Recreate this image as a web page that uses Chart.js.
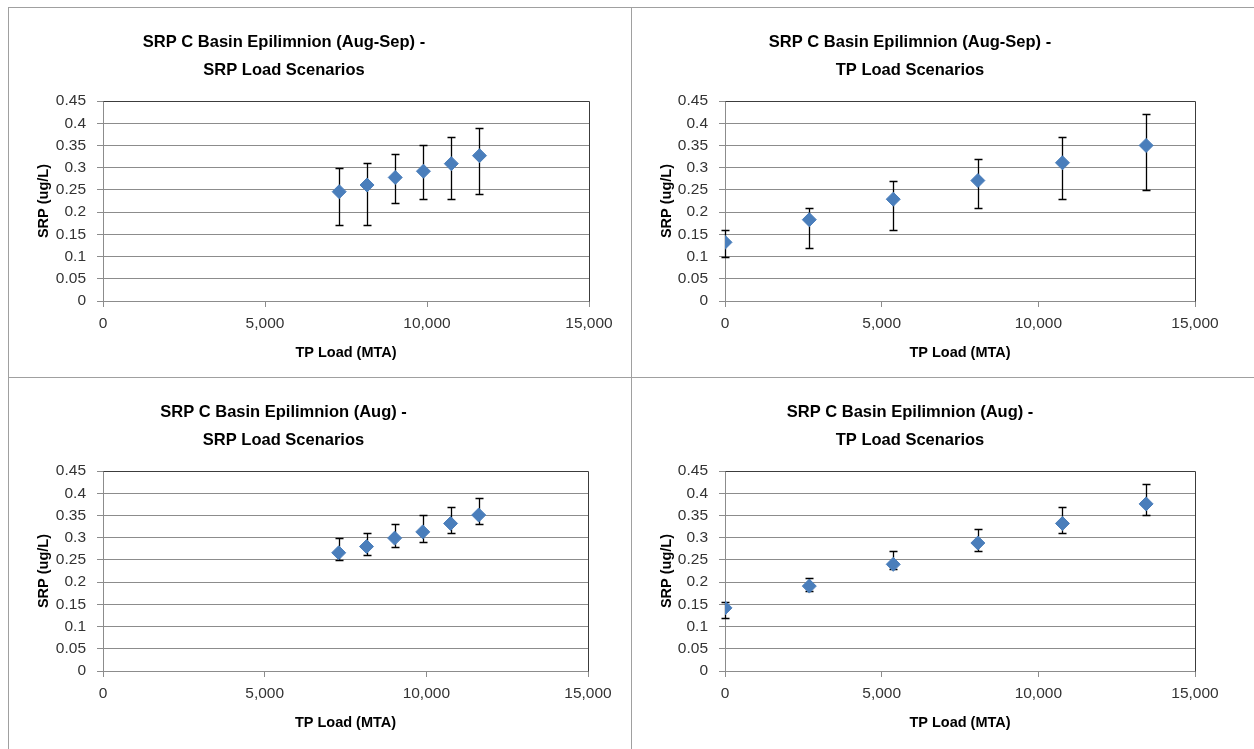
<!DOCTYPE html>
<html>
<head>
<meta charset="utf-8">
<script src="https://cdn.jsdelivr.net/npm/chart.js@4.4.0/dist/chart.umd.min.js"></script>
<style>
  html, body { margin: 0; padding: 0; background: #fff; }
  #page { position: relative; width: 1254px; height: 749px; overflow: hidden; background: #fff; }
  .panel { position: absolute; overflow: hidden; }
  .panel canvas { position: absolute; top: 0; }
  .rule { position: absolute; background: #a0a0a0; z-index: 2; }
</style>
</head>
<body>
<div id="page">
  <div class="panel" style="left:8px;top:7px;width:623px;height:370px"><canvas id="c1" width="652" height="370" style="left:-29px"></canvas></div>
  <div class="panel" style="left:631px;top:7px;width:623px;height:370px"><canvas id="c2" width="629" height="370" style="left:-6px"></canvas></div>
  <div class="panel" style="left:8px;top:377px;width:623px;height:372px"><canvas id="c3" width="652" height="370" style="left:-29px"></canvas></div>
  <div class="panel" style="left:631px;top:377px;width:623px;height:372px"><canvas id="c4" width="629" height="370" style="left:-6px"></canvas></div>
  <div class="rule" style="left:8px;top:7px;width:1246px;height:1px"></div>
  <div class="rule" style="left:8px;top:377px;width:1246px;height:1px"></div>
  <div class="rule" style="left:8px;top:7px;width:1px;height:742px"></div>
  <div class="rule" style="left:631px;top:7px;width:1px;height:742px"></div>
</div>
<script>
Chart.defaults.font.family = "'Liberation Sans', Arial, sans-serif";
Chart.defaults.color = '#333';

const xTickLabels = ['0', '5,000', '10,000', '15,000'];
const yTickLabels = ['0', '0.05', '0.1', '0.15', '0.2', '0.25', '0.3', '0.35', '0.4', '0.45'];

// TP load of each scenario
const srpScenarioLoad = [7290, 8150, 9020, 9890, 10750, 11620];
const tpScenarioLoad = [0, 2690, 5370, 8070, 10770, 13440];

// Aug-Sep, SRP load scenarios
const augSepSrpMean = [0.246, 0.261, 0.278, 0.292, 0.309, 0.327];
const augSepSrpHigh = [0.30, 0.31, 0.33, 0.35, 0.37, 0.39];
const augSepSrpLow = [0.17, 0.17, 0.22, 0.23, 0.23, 0.24];

// Aug-Sep, TP load scenarios
const augSepTpMean = [0.132, 0.183, 0.229, 0.271, 0.311, 0.350];
const augSepTpHigh = [0.16, 0.21, 0.27, 0.32, 0.37, 0.42];
const augSepTpLow = [0.10, 0.12, 0.16, 0.21, 0.23, 0.25];

// Aug, SRP load scenarios
const augSrpMean = [0.266, 0.280, 0.299, 0.313, 0.332, 0.351];
const augSrpHigh = [0.30, 0.31, 0.33, 0.35, 0.37, 0.39];
const augSrpLow = [0.25, 0.26, 0.28, 0.29, 0.31, 0.33];

// Aug, TP load scenarios
const augTpMean = [0.142, 0.191, 0.240, 0.288, 0.332, 0.376];
const augTpHigh = [0.155, 0.21, 0.27, 0.32, 0.37, 0.42];
const augTpLow = [0.12, 0.18, 0.23, 0.27, 0.31, 0.35];

// whiskers drawn from the dataset's errHigh / errLow through the scales
const errorBars = {
    id: 'errorBars',
    beforeDatasetsDraw(chart) {
        const {ctx, scales: {x, y}} = chart;
        const ds = chart.data.datasets[0];
        ctx.save();
        ctx.strokeStyle = '#000';
        ctx.lineWidth = 1.3;
        ds.data.forEach((p, i) => {
            const px = Math.round(x.getPixelForValue(p.x)) + 0.5;
            const top = Math.round(y.getPixelForValue(ds.errHigh[i])) + 0.5;
            const bot = Math.round(y.getPixelForValue(ds.errLow[i])) + 0.5;
            ctx.beginPath();
            ctx.moveTo(px, top); ctx.lineTo(px, bot);
            ctx.moveTo(px - 4, top); ctx.lineTo(px + 4, top);
            ctx.moveTo(px - 4, bot); ctx.lineTo(px + 4, bot);
            ctx.stroke();
        });
        ctx.restore();
    }
};

// dark top and right edge of the plot area
const plotFrame = {
    id: 'plotFrame',
    beforeDatasetsDraw(chart) {
        const {ctx, chartArea: a} = chart;
        const l = Math.round(a.left) + 0.5, r = Math.round(a.right) + 0.5;
        const t = Math.round(a.top) + 0.5, b = Math.round(a.bottom) + 0.5;
        ctx.save();
        ctx.strokeStyle = '#3c3c3c';
        ctx.lineWidth = 1;
        ctx.beginPath();
        ctx.moveTo(l, t); ctx.lineTo(r, t); ctx.lineTo(r, b);
        ctx.stroke();
        ctx.restore();
    }
};

function makeChart(id, plotLeft, padRight, titleX, title, xs, mean, high, low) {
    return new Chart(document.getElementById(id), {
        type: 'scatter',
        plugins: [errorBars, plotFrame],
        data: {
            datasets: [{
                data: xs.map((v, i) => ({x: v, y: mean[i]})),
                errHigh: high,
                errLow: low,
                pointStyle: 'rectRot',
                pointRadius: 7,
                backgroundColor: '#4A7EBB',
                borderColor: '#4A7EBB',
                borderWidth: 1,
            }]
        },
        options: {
            responsive: false,
            animation: false,
            events: [],
            layout: {
                padding: {top: 0, left: 0, right: padRight, bottom: 0},
            },
            plugins: {
                legend: {display: false},
                tooltip: {enabled: false},
                title: {
                    display: true,
                    text: title,
                    color: '#000',
                    font: {size: 16.5, weight: 'bold', lineHeight: '28px'},
                    padding: {top: 21, bottom: 17},
                },
            },
            scales: {
                x: {
                    type: 'linear',
                    min: 0,
                    max: 15000,
                    afterFit: function (scale) { scale.height = 76; },
                    ticks: {
                        stepSize: 5000,
                        padding: 7,
                        maxRotation: 0,
                        autoSkip: false,
                        font: {size: 15.5},
                        callback: function (value, index) { return xTickLabels[index]; },
                    },
                    grid: {
                        drawOnChartArea: false,
                        tickLength: 6,
                        color: '#8c8c8c',
                    },
                    border: {color: '#8c8c8c'},
                    title: {
                        display: true,
                        text: 'TP Load (MTA)',
                        color: '#000',
                        font: {size: 14.5, weight: 'bold'},
                        padding: {top: 0, bottom: 15},
                    },
                },
                y: {
                    min: 0,
                    max: 0.45,
                    afterFit: function (scale) { scale.width = plotLeft; },
                    ticks: {
                        stepSize: 0.05,
                        padding: 11,
                        font: {size: 15.5},
                        callback: function (value, index) { return yTickLabels[index]; },
                    },
                    grid: {
                        tickLength: 6,
                        color: '#8c8c8c',
                    },
                    border: {color: '#8c8c8c'},
                    title: {
                        display: true,
                        text: 'SRP (ug/L)',
                        color: '#000',
                        font: {size: 14.5, weight: 'bold'},
                        padding: {top: titleX, bottom: 0},
                    },
                },
            },
        },
    });
}

makeChart('c1', 124, 42, 56, ['SRP C Basin Epilimnion (Aug-Sep) -', 'SRP Load Scenarios'],
    srpScenarioLoad, augSepSrpMean, augSepSrpHigh, augSepSrpLow);
makeChart('c2', 100, 59, 33, ['SRP C Basin Epilimnion (Aug-Sep) -', 'TP Load Scenarios'],
    tpScenarioLoad, augSepTpMean, augSepTpHigh, augSepTpLow);
makeChart('c3', 124, 43, 56, ['SRP C Basin Epilimnion (Aug) -', 'SRP Load Scenarios'],
    srpScenarioLoad, augSrpMean, augSrpHigh, augSrpLow);
makeChart('c4', 100, 59, 33, ['SRP C Basin Epilimnion (Aug) -', 'TP Load Scenarios'],
    tpScenarioLoad, augTpMean, augTpHigh, augTpLow);
</script>
</body>
</html>
